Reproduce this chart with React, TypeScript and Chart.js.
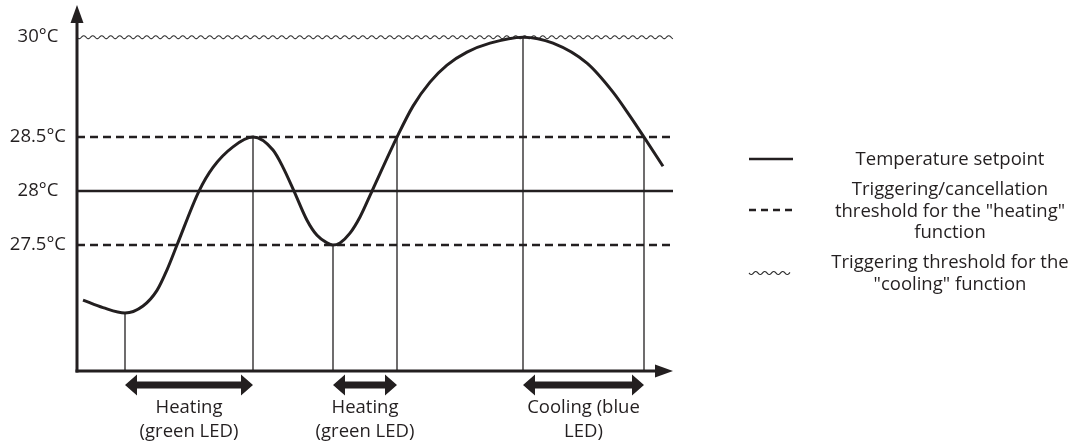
import React, { useEffect, useRef } from 'react';
import { Chart, LinearScale, registerables } from 'chart.js';

// ---- data ----
const TIME = [6, 26, 48, 66, 80, 90, 100, 122, 136, 156, 176, 196, 206, 217, 230, 240, 250, 256, 263, 273, 283, 295, 320, 336, 353, 370, 390, 413, 446, 476, 510, 536, 553, 567, 586];
const TEMPERATURE = [26.99, 26.92, 26.87, 26.935, 27.08, 27.27, 27.5, 28.0, 28.22, 28.41, 28.5, 28.38, 28.22, 28.0, 27.73, 27.59, 27.52, 27.5, 27.52, 27.61, 27.76, 28.0, 28.5, 28.965, 29.325, 29.58, 29.775, 29.91, 30.0, 29.91, 29.61, 29.175, 28.815, 28.5, 28.23];
const SETPOINT = 28;
const HEATING_THRESHOLDS = [28.5, 27.5];
const COOLING_THRESHOLD = 30;
const Y_TICKS = [27.5, 28, 28.5, 30];
const EVENT_TIMES = [48, 176, 256, 320, 446, 567];
const EVENT_TEMPS = [26.87, 28.5, 27.5, 28.5, 30, 28.5];
const PHASE_START = [48, 256, 446];
const PHASE_END = [176, 320, 567];
const PHASE_LABELS = [
  ['Heating', '(green LED)'],
  ['Heating', '(green LED)'],
  ['Cooling (blue', 'LED)'],
];
const LEGEND_LABELS = [
  ['Temperature setpoint'],
  ['Triggering/cancellation', 'threshold for the "heating"', 'function'],
  ['Triggering threshold for the', '"cooling" function'],
];
const T_MIN = 0;
const T_MAX = 596;
const Y_MIN = 26.333;
const Y_MAX = 30.333;

// ---- style ----
const INK = '#231f20';
const FONT = '"Open Sans", sans-serif';
const FONT_SIZE = 18.5;
const BREAK = 28.5;
const COMPRESS = 100 / 162;

class BrokenScale extends LinearScale {
  static id = 'broken';
  static defaults = {};
  warpValue(v: number) {
    return v <= BREAK ? v : BREAK + (v - BREAK) * COMPRESS;
  }
  unwarpValue(w: number) {
    return w <= BREAK ? w : BREAK + (w - BREAK) / COMPRESS;
  }
  determineDataLimits() {
    super.determineDataLimits();
    (this as any).min = this.warpValue((this as any).min);
    (this as any).max = this.warpValue((this as any).max);
  }
  buildTicks() {
    return Y_TICKS.map((v) => ({ value: v }));
  }
  getPixelForValue(v: number) {
    return super.getPixelForValue(this.warpValue(v));
  }
  getValueForPixel(p: number) {
    return this.unwarpValue(super.getValueForPixel(p));
  }
}

Chart.register(...registerables, BrokenScale as any);

function wave(ctx: CanvasRenderingContext2D, x0: number, x1: number, y: number, amp: number, period: number) {
  ctx.beginPath();
  let first = true;
  for (let x = x0; x <= x1; x += 0.5) {
    const yy = y + amp * Math.sin(((x - x0) / period) * 2 * Math.PI);
    if (first) {
      ctx.moveTo(x, yy);
      first = false;
    } else ctx.lineTo(x, yy);
  }
  ctx.stroke();
}

function doubleArrow(ctx: CanvasRenderingContext2D, x1: number, x2: number, y: number) {
  const hl = 12, hh = 10.5, sh = 3.5;
  ctx.beginPath();
  ctx.moveTo(x1, y);
  ctx.lineTo(x1 + hl, y - hh);
  ctx.lineTo(x1 + hl, y - sh);
  ctx.lineTo(x2 - hl, y - sh);
  ctx.lineTo(x2 - hl, y - hh);
  ctx.lineTo(x2, y);
  ctx.lineTo(x2 - hl, y + hh);
  ctx.lineTo(x2 - hl, y + sh);
  ctx.lineTo(x1 + hl, y + sh);
  ctx.lineTo(x1 + hl, y + hh);
  ctx.closePath();
  ctx.fill();
}

const wavyPlugin = {
  id: 'wavyLine',
  beforeDatasetsDraw(chart: any) {
    const ctx = chart.ctx;
    chart.data.datasets.forEach((ds: any, i: number) => {
      if (!ds.wavy) return;
      const meta = chart.getDatasetMeta(i);
      const pts = meta.data;
      if (!pts.length) return;
      ctx.save();
      ctx.strokeStyle = '#333';
      ctx.lineWidth = 1.1;
      wave(ctx, pts[0].x, pts[pts.length - 1].x, pts[0].y, 1.5, 9);
      ctx.restore();
    });
  },
};

const decorPlugin = {
  id: 'decor',
  afterDraw(chart: any) {
    const ctx: CanvasRenderingContext2D = chart.ctx;
    const { left, right, bottom, top } = chart.chartArea;
    const xs = chart.scales.x;
    ctx.save();
    ctx.fillStyle = INK;
    ctx.strokeStyle = INK;
    // y axis
    ctx.lineWidth = 3;
    ctx.beginPath();
    ctx.moveTo(left, bottom + 1.5);
    ctx.lineTo(left, top + 4);
    ctx.stroke();
    ctx.beginPath();
    ctx.moveTo(left, top - 10);
    ctx.lineTo(left - 6.5, top + 8);
    ctx.lineTo(left + 6.5, top + 8);
    ctx.closePath();
    ctx.fill();
    // x axis
    ctx.beginPath();
    ctx.moveTo(left - 1.5, bottom);
    ctx.lineTo(right - 12, bottom);
    ctx.stroke();
    ctx.beginPath();
    ctx.moveTo(right, bottom);
    ctx.lineTo(right - 18, bottom - 6.5);
    ctx.lineTo(right - 18, bottom + 6.5);
    ctx.closePath();
    ctx.fill();
    // phase arrows + labels
    ctx.font = `${FONT_SIZE}px ${FONT}`;
    ctx.textAlign = 'center';
    ctx.textBaseline = 'middle';
    PHASE_START.forEach((s, i) => {
      const x1 = xs.getPixelForValue(s);
      const x2 = xs.getPixelForValue(PHASE_END[i]);
      doubleArrow(ctx, x1, x2, bottom + 14);
      const cx = (x1 + x2) / 2;
      PHASE_LABELS[i].forEach((line, j) => {
        ctx.fillText(line, cx, bottom + 37 + j * 24);
      });
    });
    // legend
    const sx0 = 749, sx1 = 793, tx = 950;
    const sampleY = [159, 210, 273];
    const firstLineY = [160, 190, 263];
    LEGEND_LABELS.forEach((lines, i) => {
      ctx.save();
      if (i === 0) {
        ctx.lineWidth = 2.5;
        ctx.beginPath();
        ctx.moveTo(sx0, sampleY[i]);
        ctx.lineTo(sx1, sampleY[i]);
        ctx.stroke();
      } else if (i === 1) {
        ctx.lineWidth = 2.5;
        ctx.setLineDash([7, 5]);
        ctx.beginPath();
        ctx.moveTo(sx0, sampleY[i]);
        ctx.lineTo(sx1, sampleY[i]);
        ctx.stroke();
      } else {
        ctx.strokeStyle = '#333';
        ctx.lineWidth = 1.1;
        wave(ctx, sx0, sx1 - 3, sampleY[i], 1.5, 9);
      }
      ctx.restore();
      lines.forEach((line, j) => {
        ctx.fillText(line, tx, firstLineY[i] + j * 21.5);
      });
    });
    ctx.restore();
  },
};

function hLine(value: number, extra: any) {
  return {
    data: [
      { x: T_MIN, y: value },
      { x: T_MAX, y: value },
    ],
    borderColor: INK,
    borderWidth: 2.5,
    pointRadius: 0,
    ...extra,
  };
}

export default function App() {
  const ref = useRef<HTMLCanvasElement>(null);
  useEffect(() => {
    document.body.style.margin = '0';
    const curve = {
      label: 'Temperature',
      data: TIME.map((t, i) => ({ x: t, y: TEMPERATURE[i] })),
      borderColor: INK,
      borderWidth: 3,
      pointRadius: 0,
      cubicInterpolationMode: 'monotone',
    };
    const drops = EVENT_TIMES.map((t, i) => ({
      data: [
        { x: t, y: EVENT_TEMPS[i] },
        { x: t, y: Y_MIN },
      ],
      borderColor: INK,
      borderWidth: 1.3,
      pointRadius: 0,
    }));
    const datasets: any[] = [
      curve,
      hLine(SETPOINT, { label: 'Temperature setpoint' }),
      ...HEATING_THRESHOLDS.map((v) => hLine(v, { label: 'Heating threshold', borderDash: [8, 5] })),
      hLine(COOLING_THRESHOLD, { label: 'Cooling threshold', borderColor: 'rgba(0,0,0,0)', borderWidth: 0, wavy: true }),
      ...drops,
    ];
    const chart = new Chart(ref.current as HTMLCanvasElement, {
      type: 'line',
      data: { datasets },
      options: {
        animation: false,
        responsive: false,
        devicePixelRatio: 1,
        layout: { padding: { top: 15, right: 404, bottom: 70, left: 0 } },
        plugins: { legend: { display: false }, tooltip: { enabled: false } },
        scales: {
          x: { type: 'linear', min: T_MIN, max: T_MAX, display: false },
          y: {
            type: 'broken',
            min: Y_MIN,
            max: Y_MAX,
            bounds: 'data',
            grid: { display: false, drawTicks: false },
            border: { display: false },
            ticks: {
              autoSkip: false,
              padding: 11,
              crossAlign: 'center',
              color: INK,
              font: { family: FONT, size: FONT_SIZE },
              callback: (v: any) => `${v}°C`,
            },
            afterFit: (s: any) => {
              s.width = 77;
              s.paddingTop = 0;
              s.paddingBottom = 0;
            },
          } as any,
        },
      } as any,
      plugins: [wavyPlugin, decorPlugin],
    } as any);
    return () => chart.destroy();
  }, []);
  return (
    <div style={{ width: 1077, height: 441 }}>
      <canvas ref={ref} width={1077} height={441} style={{ display: 'block' }} />
    </div>
  );
}
